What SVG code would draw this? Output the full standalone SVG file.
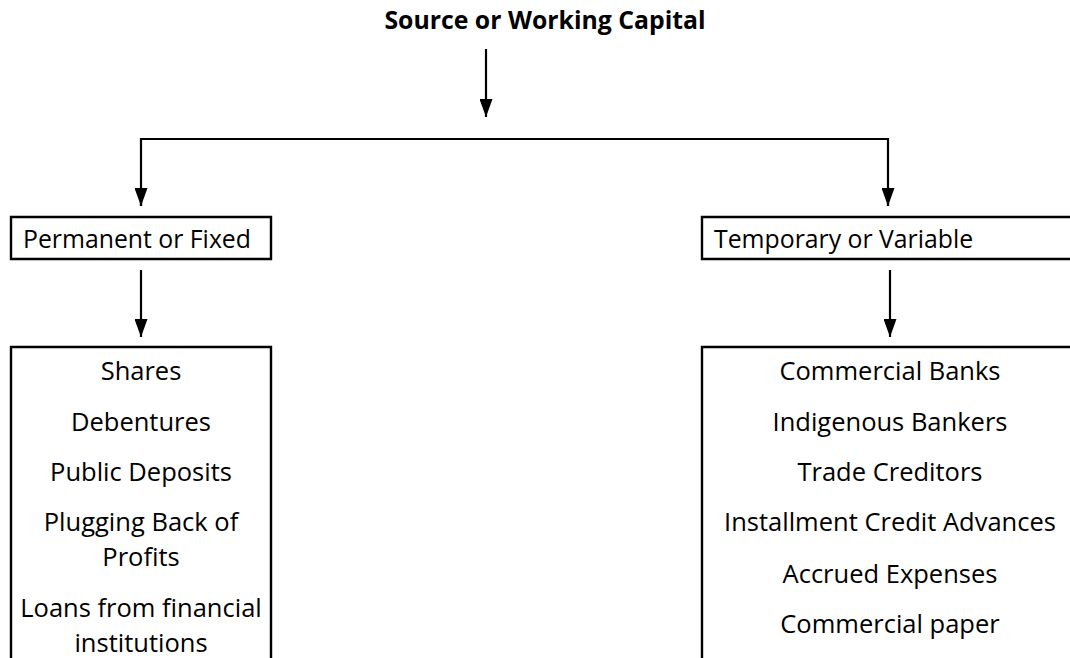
<svg xmlns="http://www.w3.org/2000/svg" width="1070" height="658" viewBox="0 0 1070 658">
<style>
text{font-family:"Open Sans","Liberation Sans",sans-serif;fill:#000;}
.t{font-size:24.8px;font-weight:bold;}
.h{font-size:24.8px;}
.i{font-size:25.5px;text-anchor:middle;}
.box{fill:none;stroke:#000;stroke-width:2.4;}
.c{fill:none;stroke:#000;stroke-width:2.2;}
</style>
<defs>
<marker id="ah" viewBox="0 0 18 13" refX="18" refY="6.5" markerWidth="18" markerHeight="13" markerUnits="userSpaceOnUse" orient="auto">
<path d="M0,0 L18,6.5 L0,13 z" fill="#000"/>
</marker>
</defs>
<rect width="1070" height="658" fill="#fff"/>
<g id="title"><text class="t" x="545" y="29" text-anchor="middle">Source or Working Capital</text></g>
<g id="connectors">
<path class="c" d="M486,49 V117" marker-end="url(#ah)"/>
<path class="c" d="M141,206 V139 H888 V206" />
<path class="c" d="M141,190 V206" marker-end="url(#ah)"/>
<path class="c" d="M888,190 V206" marker-end="url(#ah)"/>
<path class="c" d="M141,270 V337" marker-end="url(#ah)"/>
<path class="c" d="M890,270 V337" marker-end="url(#ah)"/>
</g>
<g id="permanent"><path class="box" d="M11,217 H271 V259 H11 Z"/><text class="h" x="23" y="248">Permanent or Fixed</text></g>
<g id="temporary"><path class="box" d="M1072,217 H702 V259 H1072"/><text class="h" x="714" y="248">Temporary or Variable</text></g>
<g id="permanent-list"><path class="box" d="M11,660 V347 H271 V660"/>
<text class="i" x="141" y="380">Shares</text>
<text class="i" x="141" y="431">Debentures</text>
<text class="i" x="141" y="481">Public Deposits</text>
<text class="i" x="141" y="531">Plugging Back of</text>
<text class="i" x="141" y="566">Profits</text>
<text class="i" x="141" y="617">Loans from financial</text>
<text class="i" x="141" y="652">institutions</text>
</g>
<g id="temporary-list"><path class="box" d="M702,660 V347 H1072"/>
<text class="i" x="890" y="380">Commercial Banks</text>
<text class="i" x="890" y="431">Indigenous Bankers</text>
<text class="i" x="890" y="481">Trade Creditors</text>
<text class="i" x="890" y="531">Installment Credit Advances</text>
<text class="i" x="890" y="583">Accrued Expenses</text>
<text class="i" x="890" y="633">Commercial paper</text>
</g>
</svg>
